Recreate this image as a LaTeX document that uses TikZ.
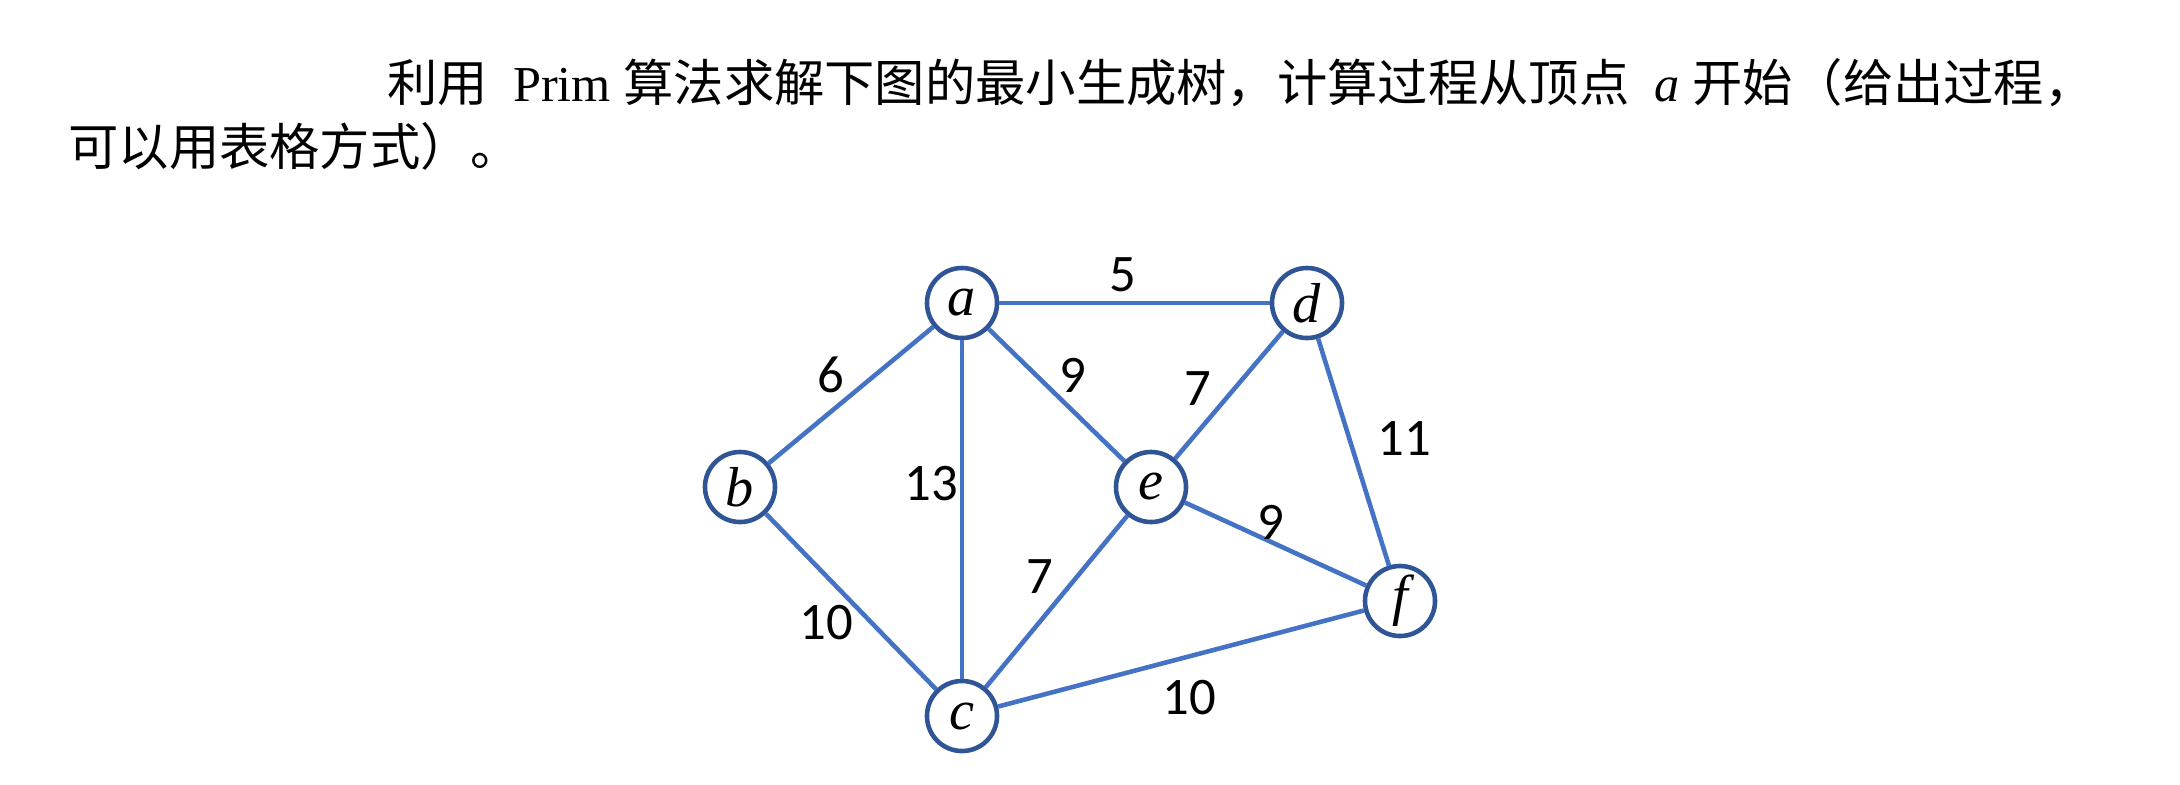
\documentclass[tikz,border=0pt]{standalone}
\usepackage{fontspec}
\setmainfont{Liberation Serif}
\newfontfamily\cjk{Noto Sans CJK SC}
\newfontfamily\lab{Carlito}
\definecolor{edgeblue}{RGB}{68,114,196}
\definecolor{ringblue}{RGB}{47,85,151}
\begin{document}
\begin{tikzpicture}[x=0.01cm,y=-0.01cm,
  vtx/.style={circle,draw=ringblue,line width=1.3pt,fill=white,minimum size=0.7cm,inner sep=0pt,font=\fontsize{16}{16}\selectfont\itshape},
  edg/.style={draw=edgeblue,line width=1.3pt},
  wt/.style={font=\lab\fontsize{15}{15}\selectfont}]
\useasboundingbox (0,0) rectangle (2180,784);
\node[anchor=west,font=\fontsize{14.3}{14.3}\selectfont] (t1) at (375,83) {{\cjk 利用}\ \ Prim {\cjk 算法求解下图的最小生成树，计算过程从顶点}\ \ \textit{a} {\cjk 开始（给出过程，}};
\node[anchor=west,font=\fontsize{14.3}{14.3}\selectfont] (t2) at (56,146) {{\cjk 可以用表格方式）。}};
\node[vtx] (a) at (962,303) {a};
\node[vtx] (d) at (1307,303) {d};
\node[vtx] (b) at (740,487) {b};
\node[vtx] (e) at (1151,487) {e};
\node[vtx] (f) at (1400,601) {f};
\node[vtx] (c) at (962,716) {c};
\draw[edg] (a)--(d); \draw[edg] (a)--(b); \draw[edg] (a)--(e); \draw[edg] (a)--(c);
\draw[edg] (d)--(e); \draw[edg] (d)--(f); \draw[edg] (b)--(c); \draw[edg] (e)--(c);
\draw[edg] (e)--(f); \draw[edg] (c)--(f);
\node[wt] (w1) at (1123,275) {5};
\node[wt] (w2) at (831,375) {6};
\node[wt] (w3) at (1073,375) {9};
\node[wt] (w4) at (1198,389) {7};
\node[wt] (w5) at (1404,439) {11};
\node[wt] (w6) at (931,484) {13};
\node[wt] (w7) at (1271,522) {9};
\node[wt] (w8) at (1040,577) {7};
\node[wt] (w9) at (826,623) {10};
\node[wt] (w10) at (1189,698) {10};
\end{tikzpicture}
\end{document}
